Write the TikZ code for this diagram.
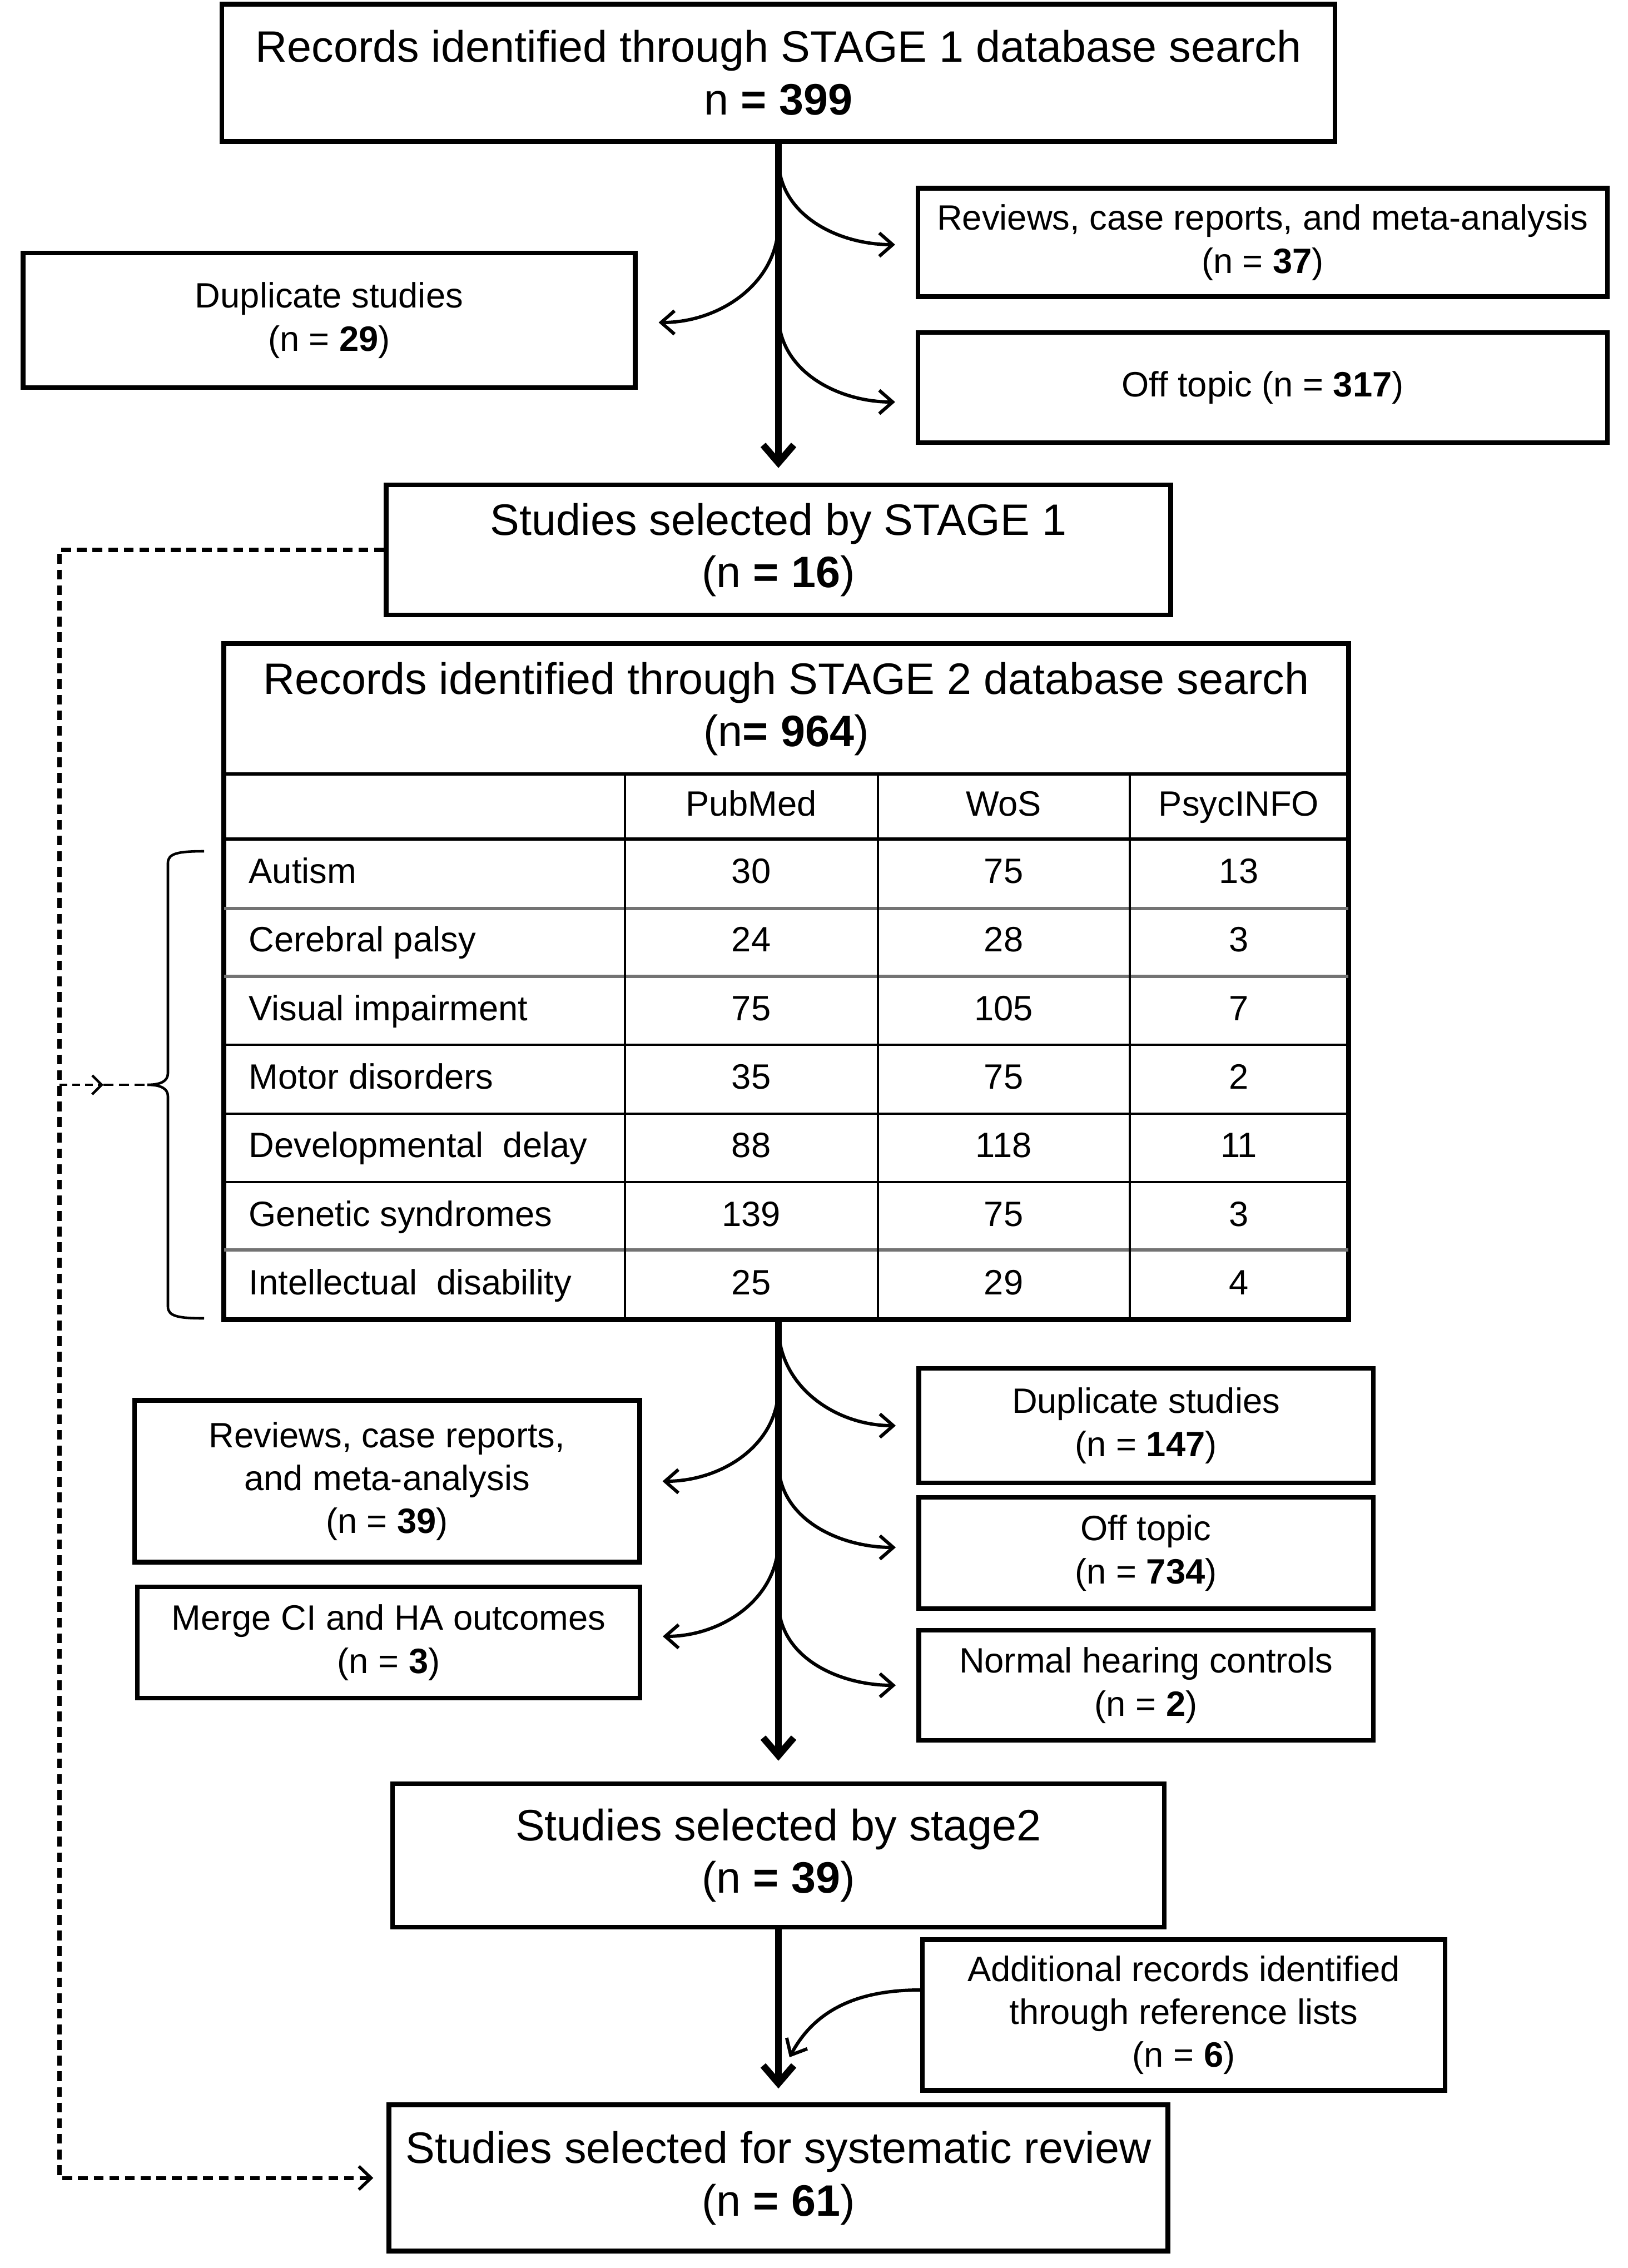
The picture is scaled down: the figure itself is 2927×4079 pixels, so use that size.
\documentclass[tikz,border=0pt]{standalone}
\usepackage{fontspec}
\setmainfont{Liberation Sans}
\usetikzlibrary{arrows.meta,calc}
\begin{document}
\begin{tikzpicture}[x=0.01cm,y=-0.01cm,
  box/.style={draw,line width=2.4pt,inner sep=0pt,align=center,font=\fontsize{18}{22}\selectfont},
  bigbox/.style={box,font=\fontsize{22.5}{27}\selectfont},
  mainarrow/.style={line width=3.5pt,-{Straight Barb[length=0.32cm,width=0.55cm,line width=3.5pt]}},
  branch/.style={line width=1.7pt,-{Straight Barb[length=0.24cm,width=0.42cm,line width=1.7pt]}},
  dashline/.style={line width=2pt,dash pattern=on 5pt off 3pt},
  cell/.style={font=\fontsize{18}{22}\selectfont,inner sep=0pt,text height=0.47cm,text depth=0.12cm},
  tabline/.style={line width=1.1pt},
  tabgray/.style={line width=1.8pt,draw=black!55},
]
\useasboundingbox (0,0) rectangle (2927,4079);

% ---------- STAGE 1 ----------
\node[bigbox,minimum width=20.01cm,minimum height=2.47cm] (b1) at (1400,131)
  {Records identified through STAGE 1 database search\\n \textbf{= 399}};
\node[box,minimum width=12.39cm,minimum height=1.95cm] (r37) at (2271,436)
  {Reviews, case reports, and meta-analysis\\(n = \textbf{37})};
\node[box,minimum width=11.00cm,minimum height=2.42cm] (d29) at (592,576)
  {Duplicate studies\\(n = \textbf{29})};
\node[box,minimum width=12.39cm,minimum height=1.98cm] (o317) at (2271,697)
  {Off topic (n = \textbf{317})};
\node[bigbox,minimum width=14.10cm,minimum height=2.34cm] (s1) at (1400,989)
  {Studies selected by STAGE 1\\(n \textbf{= 16})};

\draw[mainarrow,shorten >=0.26cm] (b1.south) -- (s1.north);
\coordinate (t1) at (1400,285);
\coordinate (t2) at (1400,400);
\coordinate (t3) at (1400,565);
\draw[branch] (t1) to[out=-90,in=180] ([xshift=-0.37cm,yshift=-0.04cm]r37.west);
\draw[branch] (t2) to[out=-90,in=0] ([xshift=0.38cm,yshift=-0.04cm]d29.east);
\draw[branch] (t3) to[out=-90,in=180] ([xshift=-0.37cm,yshift=-0.26cm]o317.west);

% ---------- TABLE (STAGE 2) ----------
\node[draw,line width=2.4pt,minimum width=20.22cm,minimum height=12.15cm,inner sep=0pt] (tab) at (1414,1765.5) {};
\node[align=center,inner sep=0pt,font=\fontsize{22.5}{27}\selectfont] (ttl) at (1414,1275)
  {Records identified through STAGE 2 database search\\(n\textbf{= 964})};
\draw[line width=1.6pt] (403,1392) -- (2425,1392);
\draw[line width=1.8pt] (403,1509) -- (2425,1509);
\foreach \yy in {1879,2003,2126} \draw[tabline] (403,\yy) -- (2425,\yy);
\foreach \yy in {1634,1756,2248} \draw[tabgray] (403,\yy) -- (2425,\yy);
\foreach \xx in {1124,1579,2032} \draw[tabline] (\xx,1392) -- (\xx,2373);
\node[cell] (hp) at (1351,1450) {PubMed};
\node[cell] (hw) at (1805,1450) {WoS};
\node[cell] (hc) at (2228,1450) {PsycINFO};
\foreach \nm/\va/\vb/\vc [count=\i] in {
  Autism/30/75/13,
  Cerebral palsy/24/28/3,
  Visual impairment/75/105/7,
  Motor disorders/35/75/2,
  Developmental\ \ delay/88/118/11,
  Genetic syndromes/139/75/3,
  Intellectual\ \ disability/25/29/4} {
  \pgfmathsetmacro{\yc}{1509+(\i-0.5)*123.4}
  \node[cell,anchor=west] (rn\i) at (447,\yc) {\nm};
  \node[cell] (ra\i) at (1351,\yc) {\va};
  \node[cell] (rb\i) at (1805,\yc) {\vb};
  \node[cell] (rc\i) at (2228,\yc) {\vc};
}

% brace
\coordinate (btip) at (265,1951);
\draw[line width=1.3pt] (367,1531) .. controls (320,1531) and (302,1535) .. (302,1552)
  -- (302,1930) .. controls (302,1944) and (290,1951) .. (btip)
  .. controls (290,1951) and (302,1958) .. (302,1972)
  -- (302,2350) .. controls (302,2367) and (320,2371) .. (367,2371);

% ---------- after table ----------
\node[box,minimum width=8.17cm,minimum height=2.06cm] (d147) at (2061,2564)
  {Duplicate studies\\(n = \textbf{147})};
\node[box,minimum width=9.08cm,minimum height=2.91cm] (r39) at (696,2664)
  {Reviews, case reports,\\and meta-analysis\\(n = \textbf{39})};
\node[box,minimum width=8.17cm,minimum height=2.00cm] (o734) at (2061,2793)
  {Off topic\\(n = \textbf{734})};
\node[box,minimum width=9.03cm,minimum height=2.00cm] (m3) at (699,2954)
  {Merge CI and HA outcomes\\(n = \textbf{3})};
\node[box,minimum width=8.17cm,minimum height=1.98cm] (n2) at (2061,3031)
  {Normal hearing controls\\(n = \textbf{2})};
\node[bigbox,minimum width=13.87cm,minimum height=2.58cm] (s2) at (1400,3337)
  {Studies selected by stage2\\(n \textbf{= 39})};

\coordinate (tb) at (1400,2373);
\draw[mainarrow,shorten >=0.37cm] (tb) -- (s2.north);
\coordinate (u1) at (1400,2385);
\coordinate (u2) at (1400,2495);
\coordinate (u3) at (1400,2630);
\coordinate (u4) at (1400,2770);
\coordinate (u5) at (1400,2880);
\draw[branch] (u1) to[out=-90,in=180] ([xshift=-0.37cm]d147.west);
\draw[branch] (u2) to[out=-90,in=0] ([xshift=0.37cm]r39.east);
\draw[branch] (u3) to[out=-90,in=180] ([xshift=-0.37cm,yshift=0.1cm]o734.west);
\draw[branch] (u4) to[out=-90,in=0] ([xshift=0.37cm,yshift=0.11cm]m3.east);
\draw[branch] (u5) to[out=-90,in=180] ([xshift=-0.37cm]n2.west);

% ---------- final ----------
\node[box,minimum width=9.39cm,minimum height=2.71cm] (a6) at (2129,3624)
  {Additional records identified\\through reference lists\\(n = \textbf{6})};
\node[bigbox,minimum width=14.00cm,minimum height=2.63cm] (fin) at (1400,3917)
  {Studies selected for systematic review\\(n \textbf{= 61})};
\draw[mainarrow,shorten >=0.25cm] (s2.south) -- (fin.north);
\coordinate (ae) at (1420,3700);
\draw[branch] ([yshift=0.45cm]a6.west) to[out=180,in=62] (ae);

% ---------- dashed loop ----------
\coordinate (dc) at (107,989);
\draw[dashline,-{Straight Barb[length=0.22cm,width=0.42cm,line width=1.6pt]},shorten >=0.24cm]
  (s1.west) -- (dc) |- (fin.west);
\coordinate (dl) at (107,1951);
\coordinate (dm) at (186,1951);
\draw[line width=1.3pt,dash pattern=on 4pt off 2.5pt,-{Straight Barb[length=0.17cm,width=0.34cm,line width=1.3pt]}] (dl) -- (dm);
\draw[line width=1.3pt,dash pattern=on 5pt off 3pt] (dm) -- (btip);
\end{tikzpicture}
\end{document}
